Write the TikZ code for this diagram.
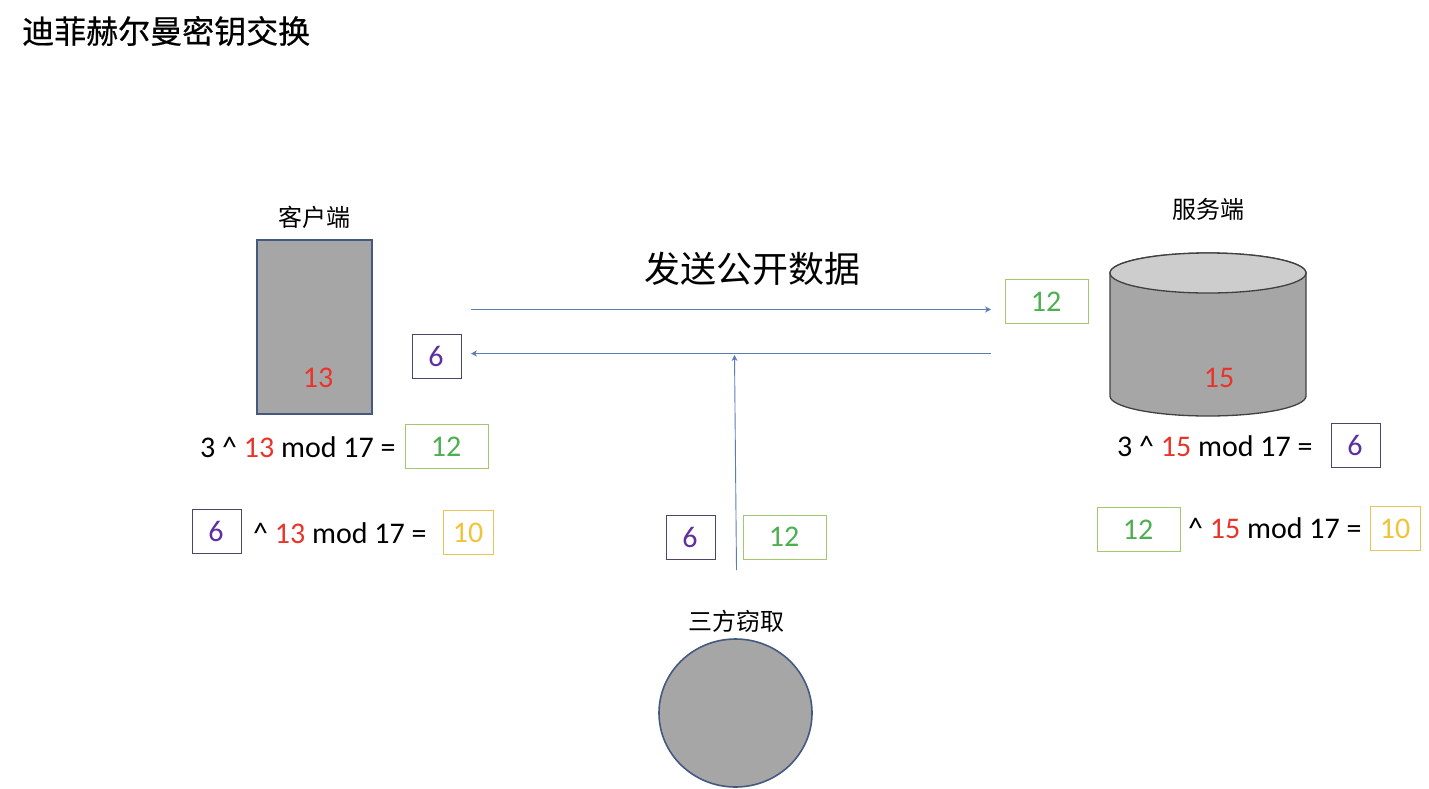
\documentclass[tikz,border=0pt]{standalone}
\usepackage{fontspec}
\setmainfont{Carlito}
\newfontfamily\cjk{Noto Sans CJK SC}
\newfontfamily\cjktitle[FakeBold=0.5]{Noto Sans CJK SC}
\usetikzlibrary{arrows.meta,shapes.geometric}
\definecolor{cred}{HTML}{E8352B}
\definecolor{cgreen}{HTML}{4CAF50}
\definecolor{cpurple}{HTML}{5E2F9E}
\definecolor{cyellow}{HTML}{F2C23A}
\definecolor{bgreen}{HTML}{A3C76D}
\definecolor{bpurple}{HTML}{4D4468}
\definecolor{byellow}{HTML}{E8C458}
\definecolor{shapegray}{HTML}{A6A6A6}
\definecolor{topgray}{HTML}{CDCDCD}
\definecolor{edgeblue}{HTML}{44597F}
\definecolor{cylline}{HTML}{404040}
\definecolor{arrowblue}{HTML}{5B7DB5}
\newcommand{\rd}[1]{\textcolor{cred}{#1}}
\tikzset{
  x=1pt,y=-1pt,
  num/.style={font=\fontsize{30}{32}\selectfont},
  expr/.style={font=\fontsize{30}{32}\selectfont,anchor=west,inner sep=0pt,text=black},
  label/.style={font=\cjk\fontsize{24}{28}\selectfont,inner sep=0pt,text=black},
  greenbox/.style={num,draw=bgreen,line width=1pt,text=cgreen,minimum width=83pt,minimum height=44pt,inner sep=0pt},
  purplebox/.style={num,draw=bpurple,line width=1pt,text=cpurple,minimum width=49pt,minimum height=44pt,inner sep=0pt},
  yellowbox/.style={num,draw=byellow,line width=1pt,text=cyellow,minimum width=50pt,minimum height=44pt,inner sep=0pt},
  flow/.style={draw=arrowblue,line width=0.9pt,-{Stealth[length=6pt,width=6pt]}},
  solid shape/.style={fill=shapegray,draw=edgeblue,line width=1.6pt},
}
\begin{document}
\begin{tikzpicture}
\useasboundingbox (0,0) rectangle (1429,788);
\node[anchor=west,inner sep=0pt,font=\cjktitle\fontsize{32}{36}\selectfont] (title) at (22,31) {迪菲赫尔曼密钥交换};

% client
\node[solid shape,minimum width=115pt,minimum height=174pt,inner sep=0pt] (client) at (314.5,327) {};
\node[label] (clientlabel) at (314,217) {客户端};
\node[num,text=cred,inner sep=0pt] (c13) at (318,378) {13};

% server
\path[fill=shapegray,draw=cylline,line width=1.3pt]
  (1110,273) -- (1110,396) arc[start angle=180,end angle=0,x radius=98,y radius=20] -- (1306,273) arc[start angle=0,end angle=-180,x radius=98,y radius=20] -- cycle;
\path[fill=topgray,draw=cylline,line width=1.3pt] (1208,273) ellipse[x radius=98,y radius=20];
\node[label] (serverlabel) at (1208,209) {服务端};
\node[num,text=cred,inner sep=0pt] (s15) at (1219,378) {15};

% eavesdropper
\node[ellipse,solid shape,minimum width=153pt,minimum height=148pt,inner sep=0pt] (eve) at (735.5,713) {};
\node[label] (evelabel) at (736,621) {三方窃取};

% top exchange
\node[font=\cjk\fontsize{36}{40}\selectfont,inner sep=0pt] (public) at (752,269) {发送公开数据};
\node[greenbox] (g1) at (1047,301.5) {\kern-2pt 12};
\node[purplebox] (p1) at (437,356.5) {\kern-2pt 6};
\coordinate (a1s) at (471,309.5);
\coordinate (a1e) at (991,309.5);
\coordinate (a2s) at (991,353.5);
\coordinate (a2e) at (471,353.5);
\draw[flow] (a1s) -- (a1e);
\draw[flow] (a2s) -- (a2e);

% eavesdrop
\node[purplebox] (p2) at (691,537) {\kern-2pt 6};
\node[greenbox] (g2) at (785,537) {\kern-2pt 12};
\coordinate (a3s) at (736.5,570);
\coordinate (a3e) at (734.5,355);
\draw[flow] (a3s) -- (a3e);

% client formulas
\node[expr] (f1) at (200,447) {3 \^{} \rd{13} mod 17 =};
\node[greenbox] (g3) at (447,446.5) {\kern-2pt 12};
\node[purplebox] (p3) at (217,531.5) {\kern-2pt 6};
\node[expr] (f2) at (253,533) {\^{} \rd{13} mod 17 =};
\node[yellowbox] (y1) at (468.5,532.5) {\kern-1pt 10};

% server formulas
\node[expr] (f3) at (1117,446) {3 \^{} \rd{15} mod 17 =};
\node[purplebox] (p4) at (1356,445.5) {\kern-2pt 6};
\node[greenbox] (g4) at (1139,529.5) {\kern-2pt 12};
\node[expr] (f4) at (1188,528.5) {\^{} \rd{15} mod 17 =};
\node[yellowbox] (y2) at (1395.5,528.5) {\kern-1pt 10};
\end{tikzpicture}
\end{document}
